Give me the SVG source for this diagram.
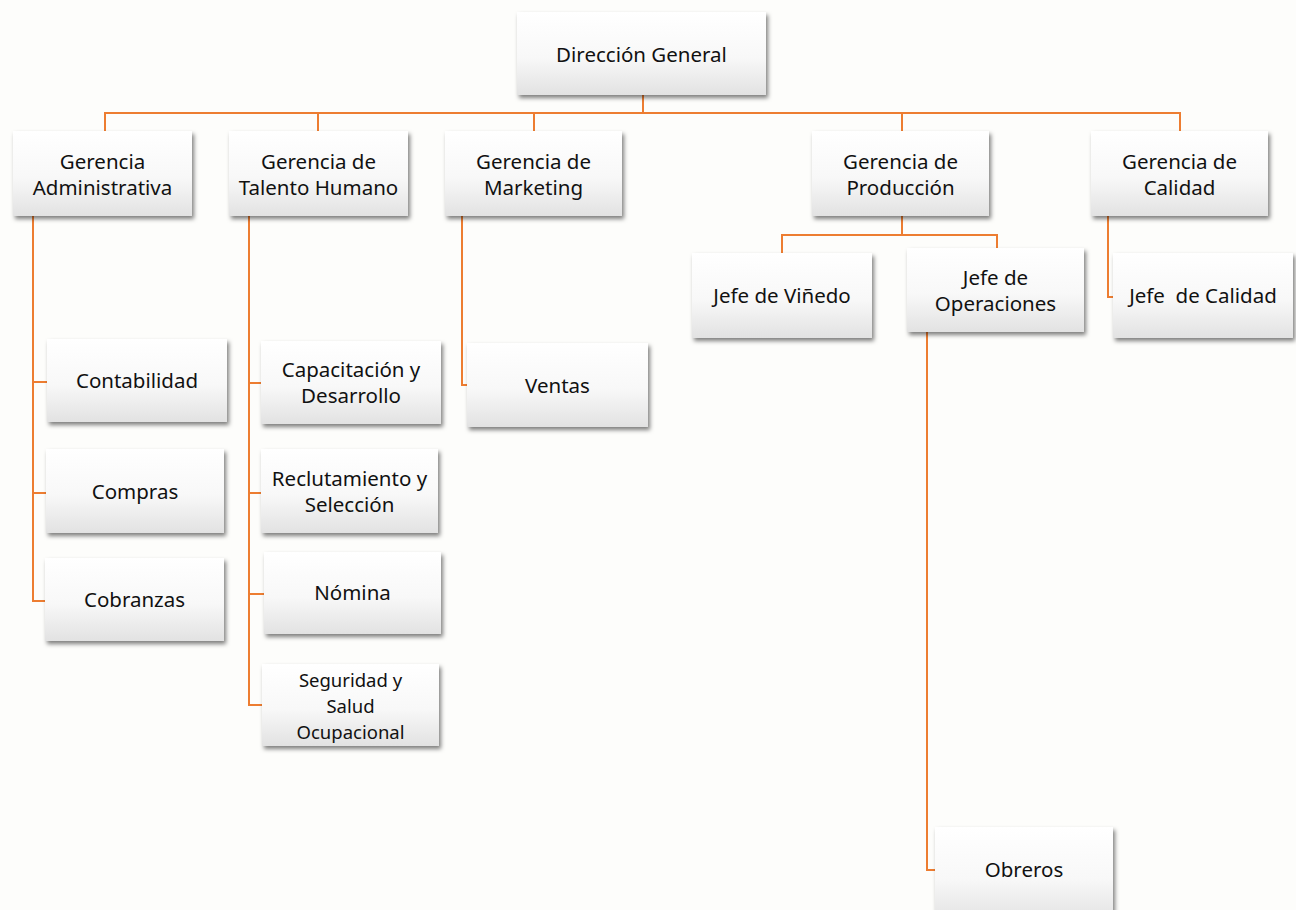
<svg xmlns="http://www.w3.org/2000/svg" width="1296" height="910" viewBox="0 0 1296 910">
<style>
.box{fill:url(#g);filter:url(#sh)}
.t{font-family:"Noto Sans","Open Sans",sans-serif;font-size:20.5px;fill:#111;text-anchor:middle;dominant-baseline:central;white-space:pre}
.s{font-size:18.5px}
.c{fill:none;stroke:#ED7D31;stroke-width:2}
</style>
<defs>
<linearGradient id="g" x1="0" y1="0" x2="0" y2="1">
<stop offset="0" stop-color="#ffffff"/>
<stop offset="0.55" stop-color="#f8f8f8"/>
<stop offset="1" stop-color="#e2e2e2"/>
</linearGradient>
<filter id="sh" x="-10%" y="-10%" width="125%" height="135%">
<feDropShadow dx="2" dy="3" stdDeviation="2" flood-color="#000" flood-opacity="0.5"/>
</filter>
</defs>
<rect width="1296" height="910" fill="#fdfdfb"/>
<g id="connectors">
<path class="c" d="M643 95V113" stroke-width="3"/>
<path class="c" d="M105 131V113H1180V131M318 113V131M534 113V131M902 113V131"/>
<path class="c" d="M33 216V601H45M33 382H47M33 493H46"/>
<path class="c" d="M249 216V705H262M249 383H261M249 493H261M249 594H264"/>
<path class="c" d="M462 216V385H467"/>
<path class="c" d="M902 216V235M782 253V235H997V248"/>
<path class="c" d="M1108 216V297H1113"/>
<path class="c" d="M927 332V870H935"/>
</g>
<g id="n-direccion"><rect class="box" x="517" y="12" width="249" height="83"/><text class="t" x="641.5" y="54">Dirección General</text></g>
<g id="n-admin"><rect class="box" x="13" y="131" width="179" height="85"/><text class="t" x="102.5" y="161">Gerencia</text><text class="t" x="102.5" y="187">Administrativa</text></g>
<g id="n-talento"><rect class="box" x="229" y="131" width="179" height="85"/><text class="t" x="318.5" y="161">Gerencia de</text><text class="t" x="318.5" y="187">Talento Humano</text></g>
<g id="n-marketing"><rect class="box" x="445" y="131" width="177" height="85"/><text class="t" x="533.5" y="161">Gerencia de</text><text class="t" x="533.5" y="187">Marketing</text></g>
<g id="n-produccion"><rect class="box" x="812" y="131" width="177" height="85"/><text class="t" x="900.5" y="161">Gerencia de</text><text class="t" x="900.5" y="187">Producción</text></g>
<g id="n-calidad"><rect class="box" x="1091" y="131" width="177" height="85"/><text class="t" x="1179.5" y="161">Gerencia de</text><text class="t" x="1179.5" y="187">Calidad</text></g>
<g id="n-contabilidad"><rect class="box" x="47" y="339" width="180" height="83"/><text class="t" x="137" y="380">Contabilidad</text></g>
<g id="n-compras"><rect class="box" x="46" y="449" width="178" height="84"/><text class="t" x="135" y="491">Compras</text></g>
<g id="n-cobranzas"><rect class="box" x="45" y="558" width="179" height="83"/><text class="t" x="134.5" y="599">Cobranzas</text></g>
<g id="n-capacitacion"><rect class="box" x="261" y="341" width="180" height="83"/><text class="t" x="351" y="369">Capacitación y</text><text class="t" x="351" y="395">Desarrollo</text></g>
<g id="n-reclutamiento"><rect class="box" x="261" y="449" width="177" height="84"/><text class="t" x="349.5" y="478">Reclutamiento y</text><text class="t" x="349.5" y="504">Selección</text></g>
<g id="n-nomina"><rect class="box" x="264" y="552" width="177" height="82"/><text class="t" x="352.5" y="592">Nómina</text></g>
<g id="n-seguridad"><rect class="box" x="262" y="664" width="177" height="82"/><text class="t s" x="350.5" y="679">Seguridad y</text><text class="t s" x="350.5" y="705">Salud</text><text class="t s" x="350.5" y="731">Ocupacional</text></g>
<g id="n-ventas"><rect class="box" x="467" y="343" width="181" height="84"/><text class="t" x="557.5" y="385">Ventas</text></g>
<g id="n-vinedo"><rect class="box" x="692" y="253" width="180" height="85"/><text class="t" x="782" y="295">Jefe de Viñedo</text></g>
<g id="n-operaciones"><rect class="box" x="907" y="248" width="177" height="84"/><text class="t" x="995.5" y="277">Jefe de</text><text class="t" x="995.5" y="303">Operaciones</text></g>
<g id="n-jefecalidad"><rect class="box" x="1113" y="253" width="180" height="85"/><text class="t" x="1203" y="295">Jefe  de Calidad</text></g>
<g id="n-obreros"><rect class="box" x="935" y="827" width="178" height="95"/><text class="t" x="1024" y="869">Obreros</text></g>
</svg>
